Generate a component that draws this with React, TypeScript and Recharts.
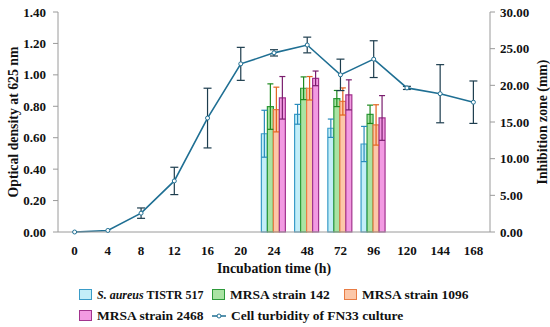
import { ComposedChart, Bar, Line, XAxis, YAxis, ErrorBar, Legend } from "recharts";

const times = ["0", "4", "8", "12", "16", "20", "24", "48", "72", "96", "120", "144", "168"];

// cell turbidity (OD 625 nm), left axis
const turbidity = [0.0, 0.01, 0.12, 0.325, 0.725, 1.07, 1.14, 1.19, 1.0, 1.1, 0.917, 0.88, 0.826];
const turbiditySd = [0, 0, 0.033, 0.087, 0.19, 0.105, 0.02, 0.05, 0.1, 0.117, 0.01, 0.185, 0.135];

// inhibition zone (mm), right axis
const aureus = [null, null, null, null, null, null, 13.4, 16.05, 14.15, 12.0, null, null, null];
const aureusSd = [0, 0, 0, 0, 0, 0, 3.2, 1.35, 1.25, 2.4, 0, 0, 0];
const mrsa142 = [null, null, null, null, null, null, 17.1, 19.6, 18.2, 16.05, null, null, null];
const mrsa142Sd = [0, 0, 0, 0, 0, 0, 3.1, 1.55, 1.1, 1.25, 0, 0, 0];
const mrsa1096 = [null, null, null, null, null, null, 16.7, 19.6, 17.8, 14.6, null, null, null];
const mrsa1096Sd = [0, 0, 0, 0, 0, 0, 3.05, 1.6, 1.85, 2.75, 0, 0, 0];
const mrsa2468 = [null, null, null, null, null, null, 18.3, 20.95, 18.7, 15.55, null, null, null];
const mrsa2468Sd = [0, 0, 0, 0, 0, 0, 2.9, 1.0, 2.05, 3.05, 0, 0, 0];

const odTicks = [0, 0.2, 0.4, 0.6, 0.8, 1.0, 1.2, 1.4];
const zoneTicks = [0, 5, 10, 15, 20, 25, 30];

const data = times.map((t, i) => ({
  time: t,
  od: turbidity[i],
  odSd: turbiditySd[i],
  a: aureus[i],
  aSd: aureusSd[i],
  b: mrsa142[i],
  bSd: mrsa142Sd[i],
  c: mrsa1096[i],
  cSd: mrsa1096Sd[i],
  d: mrsa2468[i],
  dSd: mrsa2468Sd[i],
}));

const font = "'Liberation Serif', serif";
const tickStyle = { fontFamily: font, fontWeight: 700, fontSize: 13, fill: "#111" };
const titleStyle = { ...tickStyle, fontSize: 13.8 };

const Swatch = ({ fill, stroke }: { fill: string; stroke: string }) => (
  <span
    style={{
      display: "inline-block",
      width: 11,
      height: 9,
      background: fill,
      border: `1.5px solid ${stroke}`,
      marginRight: 5,
      verticalAlign: "-1px",
    }}
  />
);

const LegendBox = () => {
  const item = (left: number, top: number, icon: any, text: any) => (
    <div style={{ position: "absolute", left, top, whiteSpace: "nowrap" }}>
      {icon}
      {text}
    </div>
  );
  return (
    <div
      style={{
        position: "relative",
        height: 44,
        fontFamily: font,
        fontWeight: 700,
        fontSize: 13.5,
        color: "#111",
      }}
    >
      {item(79, 7, <Swatch fill="#c3eef8" stroke="#3a9cc8" />, <span style={{ fontSize: 12 }}><i>S. aureus</i> TISTR 517</span>)}
      {item(212, 7, <Swatch fill="#a9e3a3" stroke="#2e9a3a" />, "MRSA strain 142")}
      {item(344, 7, <Swatch fill="#fcc7a8" stroke="#e87c44" />, "MRSA strain 1096")}
      {item(79, 28, <Swatch fill="#f29ae2" stroke="#a2348e" />, "MRSA strain 2468")}
      {item(
        212,
        28,
        <svg width={14} height={8} style={{ marginRight: 5 }}>
          <line x1={0} y1={4} x2={14} y2={4} stroke="#1f6f93" strokeWidth={1.5} />
          <circle cx={7} cy={4} r={2} fill="#fff" stroke="#1f6f93" strokeWidth={1} />
        </svg>,
        "Cell turbidity of FN33 culture"
      )}
    </div>
  );
};

export default function App() {
  return (
    <div style={{ position: "absolute", left: 0, top: 0 }}>
      <ComposedChart
        width={550}
        height={327}
        data={data}
        margin={{ top: 12, right: 0, bottom: 3, left: 0 }}
        barGap={0}
        barCategoryGap="12%"
      >
        <XAxis
          dataKey="time"
          tick={tickStyle}
          tickLine={false}
          axisLine={{ stroke: "#9a9a9a" }}
          tickMargin={8}
          height={48}
          interval={0}
          label={{ value: "Incubation time (h)", position: "insideBottom", offset: 7, style: titleStyle }}
        />
        <YAxis
          yAxisId="left"
          domain={[0, 1.4]}
          ticks={odTicks}
          tickFormatter={(v: number) => v.toFixed(2)}
          tick={tickStyle}
          axisLine={{ stroke: "#9a9a9a" }}
          tickLine={{ stroke: "#9a9a9a" }}
          tickSize={5}
          tickMargin={7}
          width={58}
          label={{ value: "Optical density at 625 nm", angle: -90, position: "insideLeft", offset: 13, style: { ...titleStyle, textAnchor: "middle" } }}
        />
        <YAxis
          yAxisId="right"
          orientation="right"
          domain={[0, 30]}
          ticks={zoneTicks}
          tickFormatter={(v: number) => v.toFixed(2)}
          tick={tickStyle}
          axisLine={{ stroke: "#9a9a9a" }}
          tickLine={{ stroke: "#9a9a9a" }}
          tickSize={5}
          tickMargin={5}
          width={60}
          label={{ value: "Inhibition zone (mm)", angle: -90, position: "insideRight", offset: 8, style: { ...titleStyle, textAnchor: "middle" } }}
        />
        <Legend verticalAlign="bottom" content={() => <LegendBox />} />
        <Bar yAxisId="right" dataKey="a" fill="#c3eef8" stroke="#3a9cc8" strokeWidth={1.2} isAnimationActive={false}>
          <ErrorBar dataKey="aSd" width={3} stroke="#2a8cbc" strokeWidth={1.2} />
        </Bar>
        <Bar yAxisId="right" dataKey="b" fill="#a9e3a3" stroke="#2e9a3a" strokeWidth={1.2} isAnimationActive={false}>
          <ErrorBar dataKey="bSd" width={3} stroke="#1e8a1e" strokeWidth={1.2} />
        </Bar>
        <Bar yAxisId="right" dataKey="c" fill="#fcc7a8" stroke="#e87c44" strokeWidth={1.2} isAnimationActive={false}>
          <ErrorBar dataKey="cSd" width={3} stroke="#e3641e" strokeWidth={1.2} />
        </Bar>
        <Bar yAxisId="right" dataKey="d" fill="#f29ae2" stroke="#a2348e" strokeWidth={1.2} isAnimationActive={false}>
          <ErrorBar dataKey="dSd" width={3} stroke="#7a1f6e" strokeWidth={1.2} />
        </Bar>
        <Line
          yAxisId="left"
          dataKey="od"
          stroke="#1f6f93"
          strokeWidth={1.6}
          dot={{ r: 2, fill: "#fff", stroke: "#1f6f93", strokeWidth: 1 }}
          isAnimationActive={false}
        >
          <ErrorBar dataKey="odSd" width={4} stroke="#1d3d4e" strokeWidth={1.2} />
        </Line>
      </ComposedChart>
    </div>
  );
}
